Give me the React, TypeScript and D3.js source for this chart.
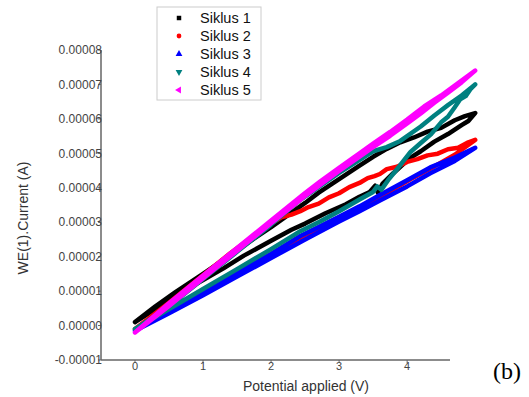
import { useMemo } from "react";
import * as d3 from "d3";

type Pt = [number, number]; // [potential V, current µA]

// Siklus 1 (black) – forward then reverse scan
const siklus1: Pt[] = [
  [0, 1], [0.3, 4.8], [0.6, 8.8], [1, 13.2], [1.3, 16.6], [1.6, 20.3], [2, 24.6], [2.3, 27.8],
  [2.5, 29.6], [2.8, 32.6], [3.1, 35.2], [3.3, 37.4], [3.45, 38.8], [3.53, 40.6], [3.57, 38.6],
  [3.64, 41.2], [3.8, 44.3], [4.04, 48.6], [4.2, 50.6], [4.4, 53.4], [4.6, 55.6], [4.8, 58.2],
  [4.9, 59.4], [5, 61.7],
  [4.85, 60.8], [4.7, 59.6], [4.5, 57.4], [4.3, 56.3], [4.1, 54.6], [3.9, 53.2], [3.7, 51.3],
  [3.5, 49], [3.3, 46.4], [3.1, 43.8], [2.9, 41.2], [2.7, 38.6], [2.5, 35.6], [2.3, 32.8],
  [2, 28.6], [1.7, 24.6], [1.4, 20.4], [1, 15], [0.6, 9.8], [0.3, 5.6], [0, 1],
];

// Siklus 2 (red)
const siklus2: Pt[] = [
  [0, -1], [0.5, 4.5], [1, 10], [1.5, 15.4], [2, 20.8], [2.5, 26.3], [2.87, 29.6], [3.3, 34],
  [3.7, 38.4], [4.04, 42.4], [4.4, 46.2], [4.7, 49.6], [5, 53.9],
  [4.9, 53.2], [4.75, 51.6], [4.6, 51.2], [4.45, 49.9], [4.3, 49.4], [4.15, 48.3], [4, 47.5],
  [3.85, 46.1], [3.7, 45.4], [3.6, 44], [3.52, 43.4], [3.42, 42.8], [3.3, 41.4], [3.15, 40.2],
  [3.0, 38.4], [2.85, 37.2], [2.7, 35.4], [2.55, 34.4], [2.43, 33.2], [2.3, 32.2], [2.15, 31.4],
  [2, 29.6], [1.7, 25.4], [1.4, 21], [1, 14.6], [0.5, 6.6], [0, -1],
];

// Siklus 3 (blue)
const siklus3: Pt[] = [
  [0, -1.5], [0.5, 4.1], [1, 9.6], [1.5, 15.2], [2, 20.8], [2.43, 26], [2.72, 28.8], [3, 31.6],
  [3.3, 34.6], [3.6, 37.9], [4, 42.2], [4.34, 45.9], [4.7, 48.8], [5, 51.6],
  [4.7, 47.8], [4.34, 44.2], [4, 40.4], [3.6, 36.3], [3.3, 33.2], [3, 30.2], [2.5, 25], [2, 19.6],
  [1.5, 14.2], [1, 8.8], [0.5, 3.6], [0, -1.5],
];

// Siklus 4 (teal)
const siklus4: Pt[] = [
  [0, -1], [0.5, 4.8], [1, 10.6], [1.5, 16.4], [2, 22.2], [2.43, 27.4], [2.72, 30.2], [3, 33.2],
  [3.3, 36.6], [3.5, 38.8], [3.56, 40.4], [3.62, 39.4], [3.72, 42.2], [3.86, 45.6],
  [4.05, 50.4], [4.2, 53], [4.35, 55.5], [4.5, 59], [4.6, 60.6], [4.7, 63.4], [4.78, 65.7],
  [4.86, 66.6], [4.93, 68.6], [5, 70],
  [4.8, 66.8], [4.6, 64], [4.4, 61], [4.2, 57.8], [3.9, 53.6], [3.7, 51.8], [3.5, 50.6],
  [3, 44.3], [2.43, 36.5], [2, 29.3], [1.5, 21.4], [1, 13.5], [0.5, 5.6], [0, -1],
];

// Siklus 5 (magenta)
const siklus5: Pt[] = [
  [0, -2], [0.5, 6.5], [1, 14.5], [1.5, 22.5], [2, 30.5], [2.5, 38.5], [2.72, 41.8], [3, 45.8],
  [3.3, 50], [3.5, 52.8], [3.75, 56.2], [4, 59.8], [4.25, 63.6], [4.5, 66.8], [4.75, 70.4], [5, 74],
  [4.8, 70.6], [4.6, 67.6], [4.4, 64.7], [4.2, 61.6], [4, 58.7], [3.75, 55.1], [3.5, 51.8],
  [3, 44.9], [2.5, 37.6], [2, 29.7], [1.5, 21.7], [1, 13.7], [0.5, 5.7], [0, -2],
];

const seriesNames = ["Siklus 1", "Siklus 2", "Siklus 3", "Siklus 4", "Siklus 5"];
const seriesData = [siklus1, siklus2, siklus3, siklus4, siklus5];
const seriesColors = ["#000000", "#ff0000", "#0000ff", "#008080", "#ff00ff"];
const xTickValues = [0, 1, 2, 3, 4];
const yTickValues = [-10, 0, 10, 20, 30, 40, 50, 60, 70, 80];

const WIDTH = 529;
const HEIGHT = 397;
const AXIS_COLOR = "#666";
const TICK_COLOR = "#444";

export default function App() {
  const xScale = d3.scaleLinear().domain([-0.5, 4.63]).range([101, 450]);
  const yScale = d3.scaleLinear().domain([-10, 80]).range([360, 50]);

  const line = useMemo(
    () =>
      d3
        .line<Pt>()
        .x((d) => xScale(d[0]))
        .y((d) => yScale(d[1])),
    []
  );

  const symbols = [
    { type: d3.symbolSquare, rotate: 0 },
    { type: d3.symbolCircle, rotate: 0 },
    { type: d3.symbolTriangle, rotate: 0 },
    { type: d3.symbolTriangle, rotate: 180 },
    { type: d3.symbolTriangle, rotate: -90 },
  ];

  const [x0, x1] = xScale.range();
  const [yBottom, yTop] = yScale.range();

  return (
    <svg
      width={WIDTH}
      height={HEIGHT}
      style={{ position: "absolute", left: 0, top: 0, background: "#fff" }}
      fontFamily="Liberation Sans, Arial, sans-serif"
    >
      {/* Series */}
      {seriesData.map((pts, i) => (
        <path
          key={seriesNames[i]}
          d={line(pts) || ""}
          fill="none"
          stroke={seriesColors[i]}
          strokeWidth={4.5}
          strokeLinejoin="round"
          strokeLinecap="round"
        />
      ))}

      {/* Y axis */}
      <line x1={x0} x2={x0} y1={yTop} y2={yBottom} stroke={AXIS_COLOR} strokeWidth={1.5} />
      {yTickValues.map((t) => (
        <g key={t} transform={`translate(${x0}, ${yScale(t)})`}>
          <line x1={-3} x2={0} stroke={AXIS_COLOR} strokeWidth={1} />
          <text x={1} y={0} dy="0.35em" textAnchor="end" fontSize={12} fill={TICK_COLOR}>
            {(t * 1e-6).toFixed(5)}
          </text>
        </g>
      ))}

      {/* X axis */}
      <line x1={x0} x2={x1} y1={yBottom} y2={yBottom} stroke={AXIS_COLOR} strokeWidth={1.5} />
      {xTickValues.map((t) => (
        <g key={t} transform={`translate(${xScale(t)}, ${yBottom})`}>
          <line y1={0} y2={3} stroke={AXIS_COLOR} strokeWidth={1} />
          <text y={10} textAnchor="middle" fontSize={11} fill={TICK_COLOR}>
            {t}
          </text>
        </g>
      ))}

      {/* Axis titles */}
      <text x={306} y={391} textAnchor="middle" fontSize={14} fill="#333">
        Potential applied (V)
      </text>
      <text transform="translate(28, 218) rotate(-90)" textAnchor="middle" fontSize={14} fill="#333">
        WE(1).Current (A)
      </text>

      <text x={493} y={379} fontSize={24} fontFamily="Liberation Serif, Times New Roman, serif" fill="#000">
        (b)
      </text>

      {/* Legend */}
      <g>
        <rect x={157} y={7} width={104} height={93} fill="#fff" stroke="#ccc" strokeWidth={1} />
        {seriesNames.map((name, i) => {
          const cy = 18 + i * 18;
          const sym = d3.symbol().type(symbols[i].type).size(i === 1 ? 18 : 20)();
          return (
            <g key={name}>
              <path
                d={sym || ""}
                transform={`translate(179, ${cy}) rotate(${symbols[i].rotate})`}
                fill={seriesColors[i]}
              />
              <text x={200} y={cy} dy="0.35em" fontSize={14.5} fill="#111">
                {name}
              </text>
            </g>
          );
        })}
      </g>
    </svg>
  );
}
